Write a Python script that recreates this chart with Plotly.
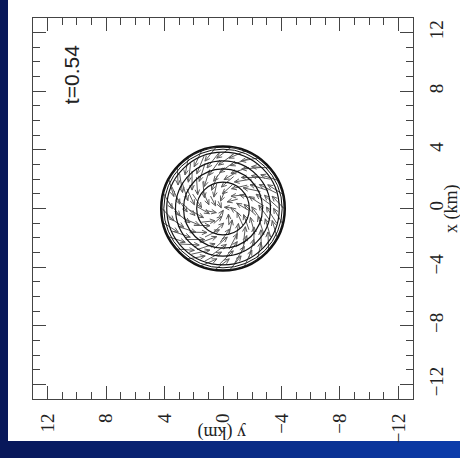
import numpy as np
import plotly.graph_objects as go

# ---------------- data ----------------
tick_vals = [-12, -8, -4, 0, 4, 8, 12]
axis_limit = 13
time_label = "t=0.54"
time_label_pos = (10.4, 9.1)          # (y km on horizontal axis, x km on vertical axis)

# density contour radii (km)
contour_radii = [4.25, 4.18, 4.05, 3.85, 3.25, 2.7, 1.8]

# velocity field sampled on rings
ring_radius = [0.35, 0.85, 1.35, 1.85, 2.35, 2.85, 3.35, 3.8]
ring_count = [3, 7, 10, 13, 17, 20, 23, 26]
ring_phase_deg = [10, 40, 5, 25, 12, 30, 8, 20]
ring_speed = [0.5, 0.75, 0.95, 1.1, 1.2, 1.3, 1.3, 1.2]   # arrow length (km)
ring_inflow_deg = [75, 65, 55, 50, 45, 42, 40, 38]

# ---------------- figure geometry ----------------
W, H = 460, 458
L, R, T, B = 33, 413, 18, 399
xdom = [L / W, R / W]
ydom = [1 - B / H, 1 - T / H]

frame_col = "#444444"
text_col = "#222222"
arrow_col = "#5a5a5a"
FONT = "Liberation Serif"

fig = go.Figure()

# ---- arrows (screen CCW rotation with inflow); horizontal data axis is reversed ----
hx, vy = [], []
head_len, head_ang = 0.38, np.deg2rad(24)
for r, n, ph, sp, infl in zip(ring_radius, ring_count, ring_phase_deg, ring_speed, ring_inflow_deg):
    a = np.deg2rad(infl)
    for k in range(n):
        th = np.deg2rad(ph) + 2 * np.pi * k / n
        sx, sy = r * np.cos(th), r * np.sin(th)
        tx, ty = -np.sin(th), np.cos(th)
        ix, iy = -np.cos(th), -np.sin(th)
        dx = np.cos(a) * tx + np.sin(a) * ix
        dy = np.cos(a) * ty + np.sin(a) * iy
        bx, by = sx - 0.5 * sp * dx, sy - 0.5 * sp * dy
        ex, ey = sx + 0.5 * sp * dx, sy + 0.5 * sp * dy
        phi = np.arctan2(dy, dx)
        h1x = ex - head_len * np.cos(phi - head_ang)
        h1y = ey - head_len * np.sin(phi - head_ang)
        h2x = ex - head_len * np.cos(phi + head_ang)
        h2y = ey - head_len * np.sin(phi + head_ang)
        # screen x -> data horizontal value is negated (reversed axis)
        hx += [-bx, -ex, None, -h1x, -ex, -h2x, None]
        vy += [by, ey, None, h1y, ey, h2y, None]

fig.add_trace(go.Scatter(x=hx, y=vy, mode="lines",
                         line=dict(color=arrow_col, width=1),
                         hoverinfo="skip", showlegend=False))

# ---- contour circles ----
widths = [1.8, 1.2, 1.0, 1.2, 1.2, 1.2, 1.2]
for r, w in zip(contour_radii, widths):
    fig.add_shape(type="circle", xref="x", yref="y", x0=-r, x1=r, y0=-r, y1=r,
                  line=dict(color="#111111", width=w))

# ---- background strips (blue frame of the slide) ----
shapes = []
shapes.append(dict(type="rect", xref="paper", yref="paper", x0=0, x1=8 / W, y0=0, y1=1,
                   fillcolor="#08185a", line=dict(width=0), layer="below"))
nsteps = 46
c0 = np.array([8, 24, 90])
c1 = np.array([12, 60, 170])
for i in range(nsteps):
    f = i / (nsteps - 1)
    c = (c0 + (c1 - c0) * f).astype(int)
    shapes.append(dict(type="rect", xref="paper", yref="paper",
                       x0=i / nsteps, x1=(i + 1) / nsteps + 0.002, y0=0, y1=(H - 441) / H,
                       fillcolor=f"rgb({c[0]},{c[1]},{c[2]})", line=dict(width=0), layer="below"))
for s in shapes:
    fig.add_shape(**s)

# ---- annotations ----
fig.add_annotation(x=time_label_pos[0], y=time_label_pos[1], xref="x", yref="y",
                   text=time_label, showarrow=False, textangle=-90,
                   xanchor="center", yanchor="middle",
                   font=dict(family="Liberation Sans", size=21, color=text_col))
fig.add_annotation(x=451 / W, y=1 - 209 / H, xref="paper", yref="paper",
                   text="x (km)", showarrow=False, textangle=-90,
                   xanchor="center", yanchor="middle",
                   font=dict(family=FONT, size=18, color=text_col))
fig.add_annotation(x=222 / W, y=1 - 433 / H, xref="paper", yref="paper",
                   text="y (km)", showarrow=False, textangle=180,
                   xanchor="center", yanchor="middle",
                   font=dict(family=FONT, size=18, color=text_col))

axis_common = dict(
    tickvals=tick_vals, ticks="inside", ticklen=13, tickwidth=1, tickcolor=frame_col,
    showline=True, linecolor=frame_col, linewidth=1, mirror="ticks",
    showgrid=False, zeroline=False, tickangle=-90,
    tickfont=dict(family=FONT, size=19, color=text_col),
    minor=dict(dtick=1, tick0=0, ticks="inside", ticklen=7, tickwidth=1,
               tickcolor=frame_col, showgrid=False),
)

fig.update_layout(
    width=W, height=H, autosize=False,
    margin=dict(l=0, r=0, t=0, b=0),
    paper_bgcolor="white", plot_bgcolor="white",
    xaxis=dict(domain=xdom, range=[axis_limit, -axis_limit], side="bottom",
               ticklabelstandoff=6, **axis_common),
    yaxis=dict(domain=ydom, range=[-axis_limit, axis_limit], side="right",
               ticklabelstandoff=6, **axis_common),
    showlegend=False,
)

fig.write_html("out.html")
